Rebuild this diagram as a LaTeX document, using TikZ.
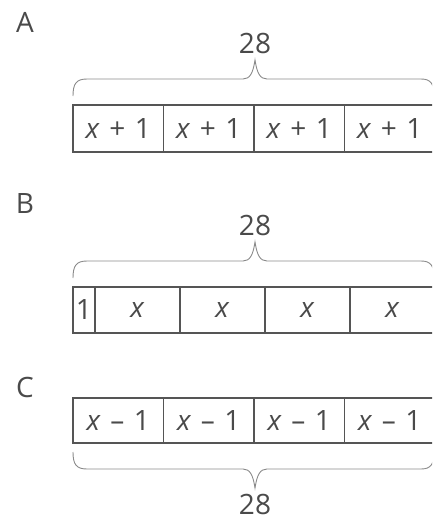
\documentclass[tikz,border=0pt]{standalone}
\usepackage{fontspec}
\setmainfont{Open Sans}
\definecolor{trait}{HTML}{555555}
\definecolor{texte}{HTML}{4A4A4A}
\definecolor{accol}{HTML}{8A8A8A}
\newcommand{\esp}{\hspace{0.34em}}
\tikzset{
  cellule/.style={draw=trait,line width=1.6pt,minimum height=#1,inner sep=0pt,text=texte,font=\fontsize{28}{32}\selectfont},
  etiquette/.style={text=texte,inner sep=0pt,anchor=base,font=\fontsize{28}{32}\selectfont},
  accolade/.style={draw=accol,line width=0.9pt}
}
\begin{document}
\begin{tikzpicture}[x=1pt,y=-1pt]
\useasboundingbox (0,0) rectangle (432,520);
\clip (0,0) rectangle (432,520);

% Bande A
\node[etiquette] (lblA) at (25,32) {A};
\node[etiquette] (totA) at (255,53) {28};

\draw[accolade]
(73,96) .. controls (73,84) and (76,79) .. (87,79)
-- (243,79) .. controls (250,79) and (253,73) .. (255,60)
.. controls (257,73) and (260,79) .. (267,79)
-- (421,79) .. controls (431,79) and (434,84) .. (434,96);

\foreach \i in {1,...,4}
{
\node[cellule=47pt,minimum width=90.5pt] (a\i) at ({73+90.5*(\i-0.5)},128.5)
{\textit{x}\esp+\esp1};
}

% Bande B
\node[etiquette] (lblB) at (25,213) {B};
\node[etiquette] (totB) at (255,235) {28};

\draw[accolade]
(73,278) .. controls (73,266) and (76,261) .. (87,261)
-- (243,261) .. controls (250,261) and (253,255) .. (255,242)
.. controls (257,255) and (260,261) .. (267,261)
-- (421,261) .. controls (431,261) and (434,266) .. (434,278);

\node[cellule=46pt,minimum width=22pt] (b0) at (84,310) {1};
\foreach \i in {1,...,4}
{
\node[cellule=46pt,minimum width=85pt] (b\i) at ({95+85*(\i-0.5)},310)
{\textit{x}};
}

% Bande C
\node[etiquette] (lblC) at (25,397) {C};

\foreach \i in {1,...,4}
{
\node[cellule=45pt,minimum width=90.5pt] (c\i) at ({73+90.5*(\i-0.5)},420.5)
{\textit{x}\esp–\esp1};
}

\draw[accolade]
(73,452) .. controls (73,464) and (76,469) .. (87,469)
-- (243,469) .. controls (250,469) and (253,475) .. (255,488)
.. controls (257,475) and (260,469) .. (267,469)
-- (421,469) .. controls (431,469) and (434,464) .. (434,452);

\node[etiquette] (totC) at (255,514) {28};

\end{tikzpicture}
\end{document}
